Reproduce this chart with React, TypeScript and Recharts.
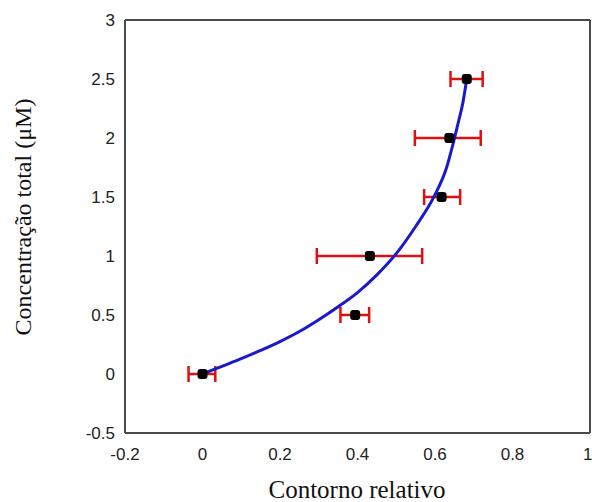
import React from 'react';
import {
  ComposedChart,
  Line,
  Scatter,
  XAxis,
  YAxis,
  ErrorBar,
  ReferenceLine,
} from 'recharts';

// Measured points: relative contour (x) vs total concentration (y)
const pointX = [0, 0.394, 0.432, 0.617, 0.637, 0.682];
const pointY = [0, 0.5, 1.0, 1.5, 2.0, 2.5];
const errMinus = [0.036, 0.038, 0.137, 0.045, 0.089, 0.042];
const errPlus = [0.033, 0.036, 0.135, 0.048, 0.081, 0.041];

// Fitted curve
const curveX = [0, 0.05, 0.1, 0.15, 0.2, 0.25, 0.3, 0.35, 0.4, 0.45, 0.5, 0.55, 0.6, 0.63, 0.645, 0.66, 0.672, 0.682];
const curveY = [0, 0.065, 0.13, 0.2, 0.275, 0.36, 0.46, 0.57, 0.69, 0.84, 1.02, 1.25, 1.52, 1.75, 1.93, 2.13, 2.3, 2.5];

const xTicks = [-0.2, 0, 0.2, 0.4, 0.6, 0.8, 1];
const yTicks = [-0.5, 0, 0.5, 1, 1.5, 2, 2.5, 3];

const points = pointX.map((x, i) => ({ x, y: pointY[i], err: [errMinus[i], errPlus[i]] }));
const curve = curveX.map((x, i) => ({ x, y: curveY[i] }));

const frame = '#4a4a4a';
const tickStyle = { fontFamily: 'Liberation Sans, Arial, sans-serif', fontSize: 17, fill: '#222' };

export default function App() {
  return (
    <div style={{ position: 'absolute', left: 0, top: 0, background: '#fff' }}>
      <ComposedChart width={592} height={502} margin={{ top: 20, right: 2, bottom: 0, left: 0 }}>
        <XAxis
          dataKey="x"
          type="number"
          domain={[-0.2, 1]}
          ticks={xTicks}
          allowDataOverflow
          height={69}
          tickLine={false}
          tickMargin={9}
          axisLine={{ stroke: frame, strokeWidth: 2 }}
          tick={tickStyle}
          tickFormatter={(v: number) => String(Math.round(v * 10) / 10)}
          label={{
            content: () => (
              <text x={357} y={498} textAnchor="middle" fontFamily="Liberation Serif, Times New Roman, serif" fontSize={25} fill="#111">
                Contorno relativo
              </text>
            ),
          }}
        />
        <YAxis
          dataKey="y"
          type="number"
          domain={[-0.5, 3]}
          ticks={yTicks}
          allowDataOverflow
          width={125}
          tickLine={false}
          tickMargin={4}
          axisLine={{ stroke: frame, strokeWidth: 2 }}
          tick={tickStyle}
          label={{
            content: () => (
              <text
                x={23}
                y={217}
                transform="rotate(-90 23 217)"
                textAnchor="middle"
                dominantBaseline="central"
                fontFamily="Liberation Serif, Times New Roman, serif"
                fontSize={24}
                fill="#111"
              >
                Concentração total (μM)
              </text>
            ),
          }}
        />
        <ReferenceLine y={3} stroke={frame} strokeWidth={2} />
        <ReferenceLine x={1} stroke={frame} strokeWidth={2} />
        <Scatter data={points} dataKey="y" isAnimationActive={false} shape={() => <g />}>
          <ErrorBar dataKey="err" direction="x" width={8} stroke="#e01010" strokeWidth={2.5} isAnimationActive={false} />
        </Scatter>
        <Line
          data={curve}
          dataKey="y"
          type="monotone"
          stroke="#1a1acc"
          strokeWidth={3}
          dot={false}
          activeDot={false}
          isAnimationActive={false}
        />
        <Scatter
          data={points}
          dataKey="y"
          fill="#000"
          isAnimationActive={false}
          shape={(p: any) => <rect x={p.cx - 5} y={p.cy - 5} width={10} height={10} rx={3} fill="#000" />}
        />
      </ComposedChart>
    </div>
  );
}
